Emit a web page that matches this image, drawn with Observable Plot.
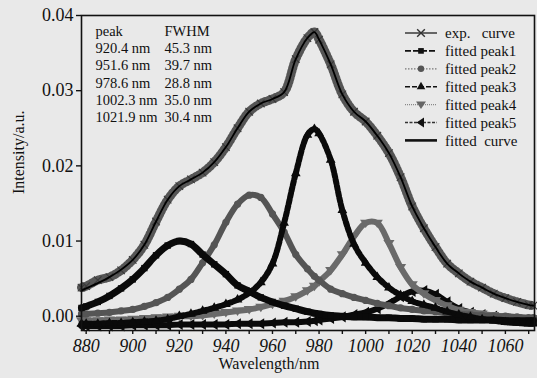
<!DOCTYPE html>
<html><head><meta charset="utf-8">
<script src="https://cdn.jsdelivr.net/npm/d3@7"></script>
<script src="https://cdn.jsdelivr.net/npm/@observablehq/plot@0.6"></script>
<style>
body{margin:0;background:#e9e9e9;}
#chart{position:relative;width:537px;height:378px;}
</style></head><body><div id="chart"></div>
<script>
const wavelength = [878,880,885,890,895,900,905,910,915,920,925,930,935,940,945,950,955,960,965,970,975,978,980,985,990,995,1000,1005,1010,1015,1020,1025,1030,1035,1040,1045,1050,1055,1060,1065,1070,1072];
const expCurve = [0.0038,0.0040,0.0048,0.0052,0.0061,0.0075,0.0095,0.0126,0.0155,0.0173,0.0182,0.0191,0.0205,0.0225,0.0250,0.0272,0.0283,0.0289,0.0298,0.0342,0.0370,0.0378,0.0368,0.0335,0.0295,0.0272,0.0259,0.0240,0.0217,0.0185,0.0146,0.0117,0.0092,0.0070,0.0057,0.0046,0.0038,0.0030,0.0024,0.0019,0.0015,0.0014];
const fittedCurve = [0.0034,0.0037,0.0044,0.0052,0.0062,0.0075,0.0095,0.0126,0.0155,0.0173,0.0182,0.0191,0.0205,0.0225,0.0250,0.0272,0.0283,0.0289,0.0298,0.0342,0.0370,0.0378,0.0368,0.0335,0.0295,0.0272,0.0259,0.0240,0.0217,0.0185,0.0146,0.0117,0.0092,0.0070,0.0057,0.0046,0.0038,0.0030,0.0024,0.0019,0.0015,0.0014];
const peak1 = [0.0011,0.0013,0.0019,0.0027,0.0037,0.0049,0.0064,0.0081,0.0094,0.0100,0.0096,0.0082,0.0069,0.0056,0.0041,0.0033,0.0025,0.0019,0.0014,0.0010,0.0006,0.0004,0.0003,0.0001,0.0000,-0.0001,-0.0001,-0.0002,-0.0002,-0.0003,-0.0003,-0.0004,-0.0004,-0.0004,-0.0005,-0.0005,-0.0005,-0.0005,-0.0006,-0.0006,-0.0006,-0.0006];
const peak2 = [0.0003,0.0003,0.0004,0.0005,0.0007,0.0009,0.0013,0.0018,0.0025,0.0036,0.0049,0.0071,0.0095,0.0125,0.0149,0.0161,0.0158,0.0136,0.0112,0.0082,0.0063,0.0053,0.0048,0.0036,0.0030,0.0025,0.0021,0.0017,0.0014,0.0011,0.0009,0.0007,0.0006,0.0004,0.0003,0.0002,0.0001,0.0000,0.0000,-0.0001,-0.0002,-0.0002];
const peak3 = [-0.0010,-0.0010,-0.0010,-0.0009,-0.0009,-0.0008,-0.0007,-0.0006,-0.0004,0.0000,0.0003,0.0007,0.0011,0.0016,0.0022,0.0031,0.0045,0.0070,0.0124,0.0190,0.0241,0.0249,0.0243,0.0208,0.0141,0.0096,0.0071,0.0052,0.0038,0.0028,0.0020,0.0015,0.0011,0.0006,0.0002,-0.0001,-0.0004,-0.0006,-0.0008,-0.0009,-0.0010,-0.0010];
const peak4 = [-0.0006,-0.0006,-0.0006,-0.0005,-0.0005,-0.0004,-0.0003,-0.0002,-0.0001,0.0000,0.0000,0.0001,0.0003,0.0005,0.0007,0.0009,0.0012,0.0016,0.0020,0.0026,0.0034,0.0040,0.0046,0.0061,0.0082,0.0106,0.0124,0.0124,0.0097,0.0065,0.0042,0.0030,0.0021,0.0014,0.0008,0.0005,0.0003,0.0001,-0.0001,-0.0002,-0.0003,-0.0003];
const peak5 = [-0.0013,-0.0013,-0.0013,-0.0013,-0.0013,-0.0012,-0.0012,-0.0012,-0.0012,-0.0011,-0.0011,-0.0011,-0.0011,-0.0011,-0.0010,-0.0010,-0.0010,-0.0009,-0.0008,-0.0008,-0.0007,-0.0006,-0.0005,-0.0003,-0.0001,0.0002,0.0005,0.0010,0.0017,0.0026,0.0033,0.0034,0.0029,0.0019,0.0010,0.0005,0.0002,0.0000,-0.0003,-0.0005,-0.0006,-0.0006];

const peakPositions = ["920.4 nm","951.6 nm","978.6 nm","1002.3 nm","1021.9 nm"];
const fwhmValues = ["45.3 nm","39.7 nm","28.8 nm","35.0 nm","30.4 nm"];
const xTickLabels = [880,900,920,940,960,980,1000,1020,1040,1060];
const xMinorTicks = [880,890,900,910,920,930,940,950,960,970,980,990,1000,1010,1020,1030,1040,1050,1060,1070];
const yTickLabels = [0.00,0.01,0.02,0.03,0.04];
const legendLabels = ["exp.   curve","fitted peak1","fitted peak2","fitted peak3","fitted peak4","fitted peak5","fitted  curve"];

const FONT = "'Liberation Serif','Times New Roman',serif";
const rows = arr => wavelength.map((w, i) => ({w, v: arr[i]}));

const triDown = {draw(ctx, size){const r=Math.sqrt(size/1.3);ctx.moveTo(-r,-r*0.6);ctx.lineTo(r,-r*0.6);ctx.lineTo(0,r*0.9);ctx.closePath();}};
const triLeft = {draw(ctx, size){const r=Math.sqrt(size/1.3);ctx.moveTo(r*0.6,-r);ctx.lineTo(r*0.6,r);ctx.lineTo(-r*0.9,0);ctx.closePath();}};

const series = [
  {data: peak5, color:"#0a0a0a", w:6, sym: triLeft, dash:null},
  {data: peak4, color:"#6a6a6a", w:6, sym: triDown, dash:null},
  {data: peak2, color:"#555555", w:6, sym: "circle", dash:null},
  {data: peak1, color:"#0a0a0a", w:7, sym: "square", dash:null},
  {data: peak3, color:"#0a0a0a", w:6, sym: "triangle", dash:"4 2.2"}
];

const marks = [];
for (const s of series) {
  marks.push(Plot.line(rows(s.data), {x:"w", y:"v", stroke:s.color, strokeWidth:s.w, curve:"catmull-rom", strokeDasharray:s.dash}));
  marks.push(Plot.dot(rows(s.data), {x:"w", y:"v", symbol: s.sym, r:3.6, fill:s.color, stroke:"none"}));
}
marks.push(Plot.line(rows(expCurve), {x:"w", y:"v", stroke:"#555", strokeWidth:9, strokeDasharray:"1.3 2.3", curve:"catmull-rom"}));
marks.push(Plot.dot(rows(expCurve), {x:"w", y:"v", symbol:"times", r:3.5, stroke:"#3a3a3a", strokeWidth:1.2}));
marks.push(Plot.line(rows(fittedCurve), {x:"w", y:"v", stroke:"#000", strokeWidth:1.8, curve:"catmull-rom"}));

const leftCol = ["peak"].concat(peakPositions).join("\n");
const rightCol = ["FWHM"].concat(fwhmValues).join("\n");

const plot = Plot.plot({
  width:537, height:378,
  marginLeft:81, marginRight:3, marginTop:15, marginBottom:48,
  style:{background:"#e9e9e9", fontFamily:FONT, color:"#111"},
  x:{domain:[878,1072.5]},
  y:{domain:[-0.0019,0.04]},
  marks:[
    ...marks,
    Plot.frame({stroke:"#111", strokeWidth:1.6}),
    Plot.axisX({ticks:xMinorTicks, tickSize:4, tickFormat:null, text:null, label:null, stroke:"#111", strokeWidth:1.4}),
    Plot.text(xTickLabels, {x:d=>d, text:d=>String(d), frameAnchor:"bottom", dy:21, fontSize:18, fontStyle:"italic", fontFamily:FONT, fill:"#111"}),
    Plot.axisY({ticks:yTickLabels, tickSize:5, tickPadding:3, tickFormat:d3.format(".2f"), fontSize:18, label:null, stroke:"#111", strokeWidth:1.4}),
    Plot.text([leftCol], {text:d=>d, frameAnchor:"top-left", dx:14, dy:8, lineAnchor:"top", lineHeight:1.19, fontSize:14.5, textAnchor:"start", fill:"#111"}),
    Plot.text([rightCol], {text:d=>d, frameAnchor:"top-left", dx:83, dy:8, lineAnchor:"top", lineHeight:1.19, fontSize:14.5, textAnchor:"start", fill:"#111"}),
    Plot.text(["Intensity/a.u."], {text:d=>d, frameAnchor:"left", rotate:-90, dx:-63, dy:21, fontSize:16, fill:"#111"}),
    Plot.text(["Wavelength/nm"], {text:d=>d, frameAnchor:"bottom", dx:-39, dy:38, fontSize:16, fill:"#111"})
  ]
});

// legend
const svg = d3.select(plot);
const lg = svg.append("g").attr("font-family", FONT).attr("font-size", 15).attr("fill", "#111").attr("text-anchor","start");
const legendStyles = [
  {stroke:"#444", w:1.6, dash:null, sym:d3.symbolTimes, fill:"none", mstroke:"#333"},
  {stroke:"#111", w:1.6, dash:"6 2", sym:d3.symbolSquare, fill:"#111"},
  {stroke:"#777", w:1.2, dash:"1.5 1.5", sym:d3.symbolCircle, fill:"#555"},
  {stroke:"#111", w:1.6, dash:"5 2", sym:d3.symbolTriangle, fill:"#111"},
  {stroke:"#888", w:1.2, dash:"1 1", sym:triDown, fill:"#666"},
  {stroke:"#333", w:1.3, dash:"3 1.5", sym:triLeft, fill:"#111"},
  {stroke:"#111", w:2.6, dash:null, sym:null, fill:null}
];
legendLabels.forEach((lab, i) => {
  const y = 33 + i * 17.9;
  const st = legendStyles[i];
  const g = lg.append("g");
  g.append("line").attr("x1",405).attr("x2",437).attr("y1",y).attr("y2",y)
    .attr("stroke",st.stroke).attr("stroke-width",st.w).attr("stroke-dasharray",st.dash);
  if (st.sym) {
    g.append("path").attr("transform",`translate(421,${y})`)
      .attr("d", d3.symbol().type(st.sym).size(st.sym===d3.symbolTimes?40:32)())
      .attr("fill", st.fill).attr("stroke", st.mstroke || "none").attr("stroke-width", 1.4);
  }
  g.append("text").attr("x",445).attr("y",y).attr("dy","0.35em").attr("text-anchor","start").style("white-space","pre").text(lab);
});

document.getElementById("chart").appendChild(plot);
</script></body></html>
